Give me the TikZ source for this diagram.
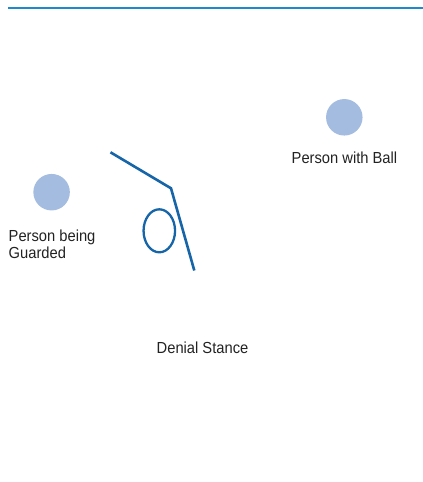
\documentclass[tikz,border=0pt]{standalone}
\usepackage{fontspec}
\setmainfont{Liberation Sans}[FakeStretch=0.92]
\usetikzlibrary{shapes.geometric}
\definecolor{rule}{HTML}{2088CC}
\definecolor{person}{HTML}{A3BCE0}
\definecolor{stance}{HTML}{1565A8}
\definecolor{txt}{HTML}{222222}
\tikzset{
  personnode/.style={circle,fill=person,draw=none,minimum size=36.5pt,inner sep=0pt},
  lbl/.style={anchor=base west,inner sep=0pt,text=txt,font=\fontsize{16}{17.3}\selectfont,align=left},
  stanceline/.style={draw=stance,line width=2.6pt,line join=miter},
  footnode/.style={ellipse,draw=stance,line width=2.3pt,minimum width=31.5pt,minimum height=43pt,inner sep=0pt}
}
\begin{document}
\begin{tikzpicture}[x=1pt,y=-1pt]
\useasboundingbox (0,0) rectangle (423,482);
\coordinate (ruleL) at (8,8);
\coordinate (ruleR) at (423,8);
\draw[rule,line width=1.3pt] (ruleL) -- (ruleR);
\node[personnode] (guarded) at (51.6,192.2) {};
\node[personnode] (ball) at (344.3,117.3) {};
\node[lbl] (guardedlbl) at (8.5,258.3) {Person being\\Guarded};
\node[lbl] (balllbl) at (291.5,163) {Person with Ball};
\node[lbl] (denial) at (156.5,353) {Denial Stance};
\coordinate (arm) at (110.5,152.3);
\coordinate (body) at (171,188.3);
\coordinate (leg) at (194.3,270.5);
\draw[stanceline] (arm) -- (body) -- (leg);
\node[footnode] (foot) at (159.3,230.8) {};
\end{tikzpicture}
\end{document}
